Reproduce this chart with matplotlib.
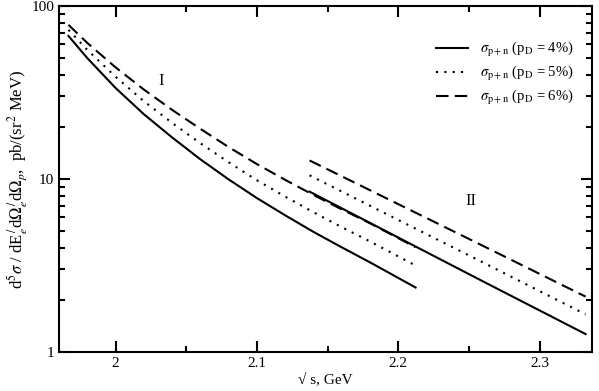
import numpy as np
import matplotlib.pyplot as plt
from matplotlib.ticker import MultipleLocator, LogLocator, NullFormatter, FixedLocator, FixedFormatter

plt.rcParams['font.family'] = ['Liberation Serif', 'DejaVu Serif']
plt.rcParams['mathtext.fontset'] = 'stix'

# region I
x1 = [1.9667, 1.98, 2.00, 2.02, 2.04, 2.06, 2.08, 2.10, 2.12, 2.14, 2.16, 2.18, 2.2123]
s1_4 = [67.1, 50.0, 33.6, 23.7, 17.4, 13.0, 9.95, 7.76, 6.17, 4.95, 4.03, 3.30, 2.36]
s1_5 = [72.8, 55.8, 39.0, 28.2, 21.1, 16.1, 12.5, 9.84, 7.91, 6.43, 5.27, 4.36, 3.16]
s1_6 = [77.8, 61.2, 44.2, 32.9, 25.1, 19.5, 15.3, 12.2, 9.89, 8.09, 6.68, 5.55, 4.03]

# region II
x2 = [2.1373, 2.20, 2.2576, 2.3326]
s2_4 = [8.45, 4.59, 2.62, 1.27]
s2_5 = [10.5, 5.80, 3.37, 1.65]
s2_6 = [12.8, 7.16, 4.20, 2.09]

labels = [r'$\sigma_{\rm p+n}$ (p$_{\rm D}$ = 4%)',
          r'$\sigma_{\rm p+n}$ (p$_{\rm D}$ = 5%)',
          r'$\sigma_{\rm p+n}$ (p$_{\rm D}$ = 6%)']

fig = plt.figure(figsize=(5.99, 3.91), dpi=100)
ax = fig.add_axes([0.0985, 0.0997, 0.8895, 0.885])

dot = (0, (1, 3))
dash = (0, (6, 3))
ax.plot(x1, s1_4, color='black', lw=1.5, label=labels[0])
ax.plot(x1, s1_5, color='black', lw=1.5, ls=dot, label=labels[1])
ax.plot(x1, s1_6, color='black', lw=1.5, ls=dash, label=labels[2])
ax.plot(x2, s2_4, color='black', lw=1.5)
ax.plot(x2, s2_5, color='black', lw=1.5, ls=dot)
ax.plot(x2, s2_6, color='black', lw=1.5, ls=dash)

ax.text(2.0326, 36.8, 'I', fontsize=12, ha='center', va='center')
ax.text(2.2512, 7.47, 'II', fontsize=12, ha='center', va='center')

ax.set_yscale('log')
ax.set_xlim(1.96, 2.337)
ax.set_ylim(1, 100)
ax.xaxis.set_major_locator(FixedLocator([2.0, 2.1, 2.2, 2.3]))
ax.xaxis.set_major_formatter(FixedFormatter(['2', '2.1', '2.2', '2.3']))
ax.xaxis.set_minor_locator(MultipleLocator(0.05))
ax.yaxis.set_major_locator(FixedLocator([1, 10, 100]))
ax.yaxis.set_major_formatter(FixedFormatter(['1', '10', '100']))
ax.yaxis.set_minor_locator(LogLocator(base=10, subs=np.arange(2, 10)))
ax.yaxis.set_minor_formatter(NullFormatter())

ax.tick_params(which='both', direction='in', top=True, right=True, labelsize=11, width=1.5)
ax.tick_params(which='major', length=8)
ax.tick_params(which='minor', length=4)
for sp in ax.spines.values():
    sp.set_linewidth(1.5)

ax.set_xlabel('√ s, GeV', fontsize=11, labelpad=2)
ax.set_ylabel(r"d$^5\sigma$ / dE$_e^{\,/}$d$\Omega_e^{\,/}$d$\Omega_p$,  pb/(sr$^2$ MeV)", fontsize=12,
              labelpad=1)

ax.legend(loc='upper right', bbox_to_anchor=(0.99, 0.94), frameon=False, fontsize=10.5,
          handlelength=2.2, labelspacing=0.35)

fig.savefig('out.png', dpi=100)
